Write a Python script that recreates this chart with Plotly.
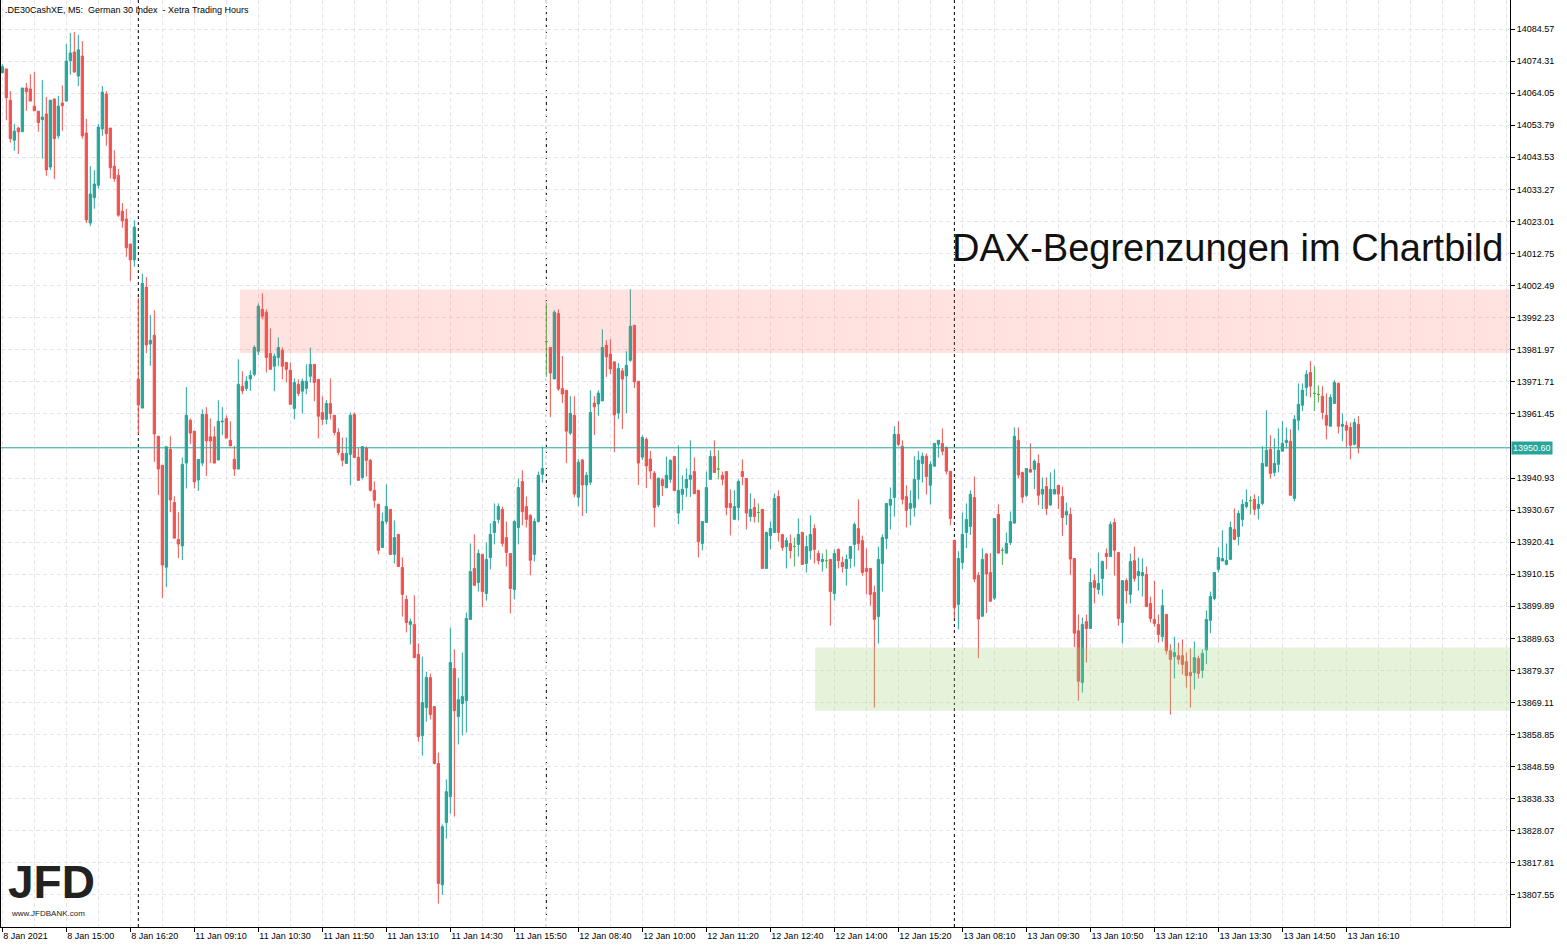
import plotly.graph_objects as go

UP_COLOR = "#26A69A"
DOWN_COLOR = "#EF5350"
DOJI_COLOR = "#4CAF50"
GRID_COLOR = "#E8E5EA"
FONT = "Liberation Sans, Arial, sans-serif"

# M5 candles, 8 Jan 13:40 -> 13 Jan 16:20 (server time, Xetra hours only)
opens = [
    14070.6, 14071.8, 14061.8, 14049.0, 14052.9, 14051.7, 14065.7, 14065.4, 14059.9, 14058.3,
    14055.6, 14057.4, 14040.4, 14062.2, 14050.4, 14060.9, 14061.5, 14074.4, 14077.2, 14069.5,
    14075.9, 14051.3, 14022.5, 14030.6, 14034.6, 14052.6, 14063.8, 14052.9, 14040.7, 14037.8,
    14026.3, 14023.8, 14015.8, 14010.7, 13972.5, 13963.3, 14002.0, 13983.8, 13986.6, 13954.3,
    13945.0, 13912.4, 13950.1, 13933.1, 13921.3, 13919.2, 13945.7, 13959.4, 13955.9, 13940.3,
    13945.7, 13961.3, 13954.1, 13954.1, 13946.7, 13958.9, 13960.0, 13953.0, 13946.9, 13943.8,
    13970.3, 13969.6, 13972.6, 13974.1, 13981.5, 13994.9, 13994.0, 13980.8, 13976.7, 13979.5,
    13981.8, 13977.9, 13975.4, 13963.2, 13970.9, 13968.7, 13969.6, 13973.5, 13977.3, 13972.5,
    13961.9, 13959.7, 13964.8, 13961.0, 13955.5, 13948.8, 13945.6, 13948.5, 13961.3, 13947.6,
    13941.1, 13950.5, 13946.6, 13937.0, 13932.5, 13918.7, 13927.0, 13930.9, 13916.5, 13922.9,
    13912.3, 13902.1, 13894.1, 13894.1, 13884.5, 13858.5, 13867.5, 13877.1, 13867.8, 13849.6,
    13810.8, 13830.7, 13839.0, 13880.0, 13864.6, 13868.8, 13869.7, 13895.7, 13912.0, 13907.5,
    13916.5, 13904.0, 13915.5, 13923.5, 13927.7, 13930.9, 13921.9, 13916.8, 13905.3, 13925.1,
    13939.8, 13931.8, 13929.0, 13916.5, 13927.0, 13942.1, 13984.6, 13982.7, 13972.6, 13993.6,
    13969.6, 13969.0, 13955.3, 13961.0, 13934.8, 13946.7, 13938.7, 13939.6, 13964.9, 13964.6,
    13965.6, 13983.4, 13980.6, 13978.1, 13961.7, 13975.2, 13973.6, 13978.6, 13989.8, 13971.9,
    13947.6, 13953.3, 13947.0, 13942.5, 13932.3, 13940.4, 13937.8, 13940.5, 13947.8, 13929.7,
    13935.7, 13937.8, 13940.5, 13943.0, 13937.0, 13920.0, 13926.7, 13940.5, 13947.8, 13943.8,
    13941.8, 13943.0, 13932.8, 13927.7, 13931.5, 13943.0, 13940.8, 13928.6, 13931.5, 13929.9,
    13930.9, 13912.0, 13922.5, 13923.5, 13935.0, 13922.9, 13919.0, 13920.0, 13919.0, 13919.7,
    13923.5, 13913.6, 13917.7, 13924.8, 13916.8, 13914.2, 13914.5, 13914.9, 13904.0, 13918.1,
    13913.9, 13912.0, 13915.2, 13919.7, 13924.8, 13920.9, 13912.0, 13912.0, 13904.3, 13896.6,
    13913.6, 13921.6, 13932.2, 13934.7, 13954.9, 13951.1, 13935.0, 13931.2, 13931.5, 13940.5,
    13945.6, 13947.9, 13938.6, 13944.7, 13951.7, 13952.0, 13950.7, 13943.1, 13921.0, 13900.5,
    13913.9, 13923.5, 13925.4, 13934.7, 13909.8, 13896.7, 13916.6, 13910.7, 13902.5, 13929.3,
    13917.8, 13916.9, 13920.3, 13926.5, 13953.0, 13942.7, 13935.4, 13943.7, 13943.7, 13945.6,
    13935.8, 13938.2, 13932.3, 13935.8, 13938.6, 13935.0, 13929.1, 13929.3, 13915.2, 13892.1,
    13875.5, 13895.0, 13892.8, 13908.1, 13905.3, 13908.8, 13916.8, 13915.8, 13926.7, 13917.1,
    13894.7, 13908.1, 13903.7, 13914.5, 13909.7, 13909.7, 13910.1, 13900.8, 13895.7, 13894.1,
    13890.2, 13897.3, 13885.7, 13883.8, 13884.1, 13884.1, 13882.2, 13878.7, 13878.7, 13883.2,
    13879.4, 13885.9, 13895.4, 13902.4, 13911.7, 13914.4, 13913.3, 13914.9, 13924.5, 13922.2,
    13927.7, 13931.8, 13933.7, 13934.1, 13931.2, 13932.8, 13944.7, 13950.1, 13942.7, 13945.3,
    13949.5, 13952.3, 13952.7, 13934.4, 13959.4, 13964.2, 13969.9, 13974.7, 13968.0, 13967.7,
    13967.1, 13961.0, 13957.5, 13964.8, 13971.2, 13957.5, 13957.8, 13957.1, 13951.7, 13958.1,
]
highs = [
    14073.3, 14071.8, 14064.7, 14054.2, 14053.3, 14065.7, 14067.3, 14070.1, 14070.8, 14058.3,
    14068.2, 14062.8, 14061.8, 14062.2, 14063.2, 14066.6, 14079.8, 14083.3, 14083.6, 14082.7,
    14080.7, 14055.8, 14040.7, 14039.4, 14054.2, 14066.3, 14064.7, 14052.9, 14045.8, 14039.8,
    14028.9, 14027.0, 14015.8, 14023.4, 13998.6, 14006.3, 14005.2, 13993.0, 13994.6, 13954.3,
    13945.0, 13951.2, 13954.3, 13935.1, 13930.0, 13947.5, 13970.0, 13960.0, 13955.9, 13946.9,
    13962.9, 13963.6, 13960.0, 13957.5, 13965.8, 13963.6, 13961.0, 13959.1, 13951.2, 13978.9,
    13975.1, 13973.5, 13975.4, 13983.4, 13996.8, 14000.0, 13994.9, 13988.8, 13980.8, 13985.9,
    13982.7, 13977.9, 13977.9, 13972.8, 13972.5, 13972.8, 13977.3, 13982.7, 13977.3, 13972.5,
    13967.1, 13965.8, 13972.8, 13961.0, 13956.8, 13953.9, 13953.9, 13961.9, 13961.9, 13950.5,
    13951.0, 13951.0, 13947.0, 13939.8, 13932.8, 13929.9, 13938.9, 13930.9, 13927.4, 13922.9,
    13915.5, 13903.4, 13896.0, 13903.4, 13888.0, 13883.8, 13879.0, 13878.4, 13867.8, 13853.1,
    13830.1, 13844.5, 13893.1, 13886.1, 13877.0, 13885.1, 13897.9, 13920.0, 13922.9, 13918.1,
    13916.5, 13920.3, 13926.4, 13932.8, 13932.8, 13931.8, 13927.0, 13916.8, 13927.4, 13940.8,
    13943.4, 13935.0, 13929.3, 13928.0, 13943.0, 13951.0, 13996.9, 13982.7, 13994.6, 13994.9,
    13980.0, 13969.0, 13967.1, 13967.1, 13947.0, 13947.0, 13942.8, 13969.0, 13967.1, 13969.0,
    13988.5, 13985.0, 13985.3, 13978.1, 13977.7, 13976.1, 13981.5, 14001.3, 13989.8, 13971.9,
    13954.6, 13953.9, 13949.6, 13943.2, 13940.9, 13941.0, 13947.8, 13946.9, 13947.8, 13951.4,
    13941.8, 13944.0, 13953.0, 13947.5, 13937.0, 13927.0, 13943.0, 13949.8, 13953.0, 13949.8,
    13943.0, 13943.0, 13937.3, 13937.0, 13940.5, 13946.9, 13940.8, 13936.0, 13934.4, 13932.8,
    13930.9, 13923.8, 13927.0, 13936.0, 13937.0, 13922.9, 13921.9, 13922.9, 13921.9, 13928.0,
    13923.8, 13922.5, 13929.0, 13926.1, 13917.7, 13916.8, 13918.1, 13914.9, 13918.1, 13918.4,
    13915.8, 13916.5, 13919.0, 13926.7, 13934.1, 13922.5, 13918.4, 13912.0, 13906.5, 13919.0,
    13922.9, 13932.8, 13937.9, 13957.5, 13959.1, 13953.0, 13938.6, 13937.0, 13947.9, 13949.5,
    13949.1, 13948.8, 13946.3, 13952.0, 13953.0, 13956.8, 13951.1, 13943.1, 13921.0, 13917.5,
    13929.9, 13932.8, 13937.0, 13941.4, 13910.8, 13918.4, 13916.9, 13916.9, 13928.0, 13932.5,
    13918.7, 13923.5, 13930.2, 13957.1, 13957.1, 13943.0, 13944.0, 13952.0, 13946.9, 13948.5,
    13941.1, 13941.1, 13942.7, 13943.7, 13938.6, 13938.2, 13933.1, 13931.5, 13915.2, 13897.3,
    13896.3, 13897.3, 13912.0, 13910.1, 13917.1, 13914.5, 13918.4, 13927.0, 13928.0, 13917.1,
    13908.1, 13908.8, 13916.8, 13919.0, 13915.5, 13915.2, 13912.6, 13903.0, 13908.1, 13897.3,
    13905.3, 13897.3, 13887.7, 13890.2, 13888.3, 13889.3, 13885.1, 13886.4, 13888.6, 13884.1,
    13886.1, 13898.6, 13904.6, 13910.7, 13918.7, 13924.2, 13920.0, 13927.0, 13931.2, 13930.6,
    13934.1, 13937.3, 13935.1, 13935.7, 13935.1, 13951.1, 13962.6, 13954.6, 13953.6, 13956.8,
    13959.1, 13957.1, 13956.5, 13961.0, 13971.2, 13971.2, 13975.4, 13978.3, 13976.7, 13970.6,
    13970.3, 13968.0, 13967.7, 13972.2, 13971.5, 13961.6, 13959.1, 13958.7, 13960.0, 13960.7,
]
lows = [
    14070.4, 14055.4, 14048.2, 14045.6, 14044.6, 14051.7, 14058.4, 14061.5, 14058.4, 14051.7,
    14043.1, 14037.6, 14039.5, 14036.6, 14049.5, 14052.0, 14061.5, 14070.0, 14070.6, 14066.3,
    14049.5, 14022.5, 14021.5, 14027.1, 14033.5, 14050.4, 14047.2, 14036.7, 14035.7, 14024.5,
    14021.0, 14011.7, 14004.0, 14008.5, 13955.0, 13963.3, 13980.9, 13976.8, 13946.1, 13935.5,
    13902.5, 13906.0, 13930.0, 13921.7, 13915.3, 13914.7, 13937.6, 13951.8, 13937.6, 13936.8,
    13944.8, 13941.6, 13945.7, 13945.7, 13946.7, 13954.6, 13953.7, 13951.2, 13941.6, 13943.8,
    13967.7, 13968.8, 13968.8, 13973.5, 13980.2, 13991.7, 13974.7, 13975.7, 13968.7, 13976.7,
    13972.5, 13971.5, 13964.5, 13959.7, 13967.1, 13961.6, 13967.7, 13971.5, 13965.5, 13953.6,
    13957.8, 13958.1, 13959.7, 13954.6, 13948.2, 13944.7, 13945.6, 13938.6, 13947.5, 13940.2,
    13940.5, 13941.4, 13936.6, 13931.5, 13916.5, 13918.7, 13926.1, 13916.5, 13913.6, 13912.6,
    13896.6, 13891.5, 13887.7, 13883.2, 13856.6, 13852.1, 13863.0, 13863.7, 13849.3, 13804.8,
    13807.6, 13825.6, 13833.6, 13832.6, 13855.7, 13858.6, 13859.5, 13895.7, 13906.6, 13904.6,
    13899.6, 13901.7, 13911.7, 13919.7, 13926.4, 13919.0, 13912.6, 13897.6, 13902.1, 13919.7,
    13925.8, 13925.1, 13909.8, 13914.2, 13926.7, 13939.5, 13973.3, 13960.4, 13972.6, 13968.8,
    13964.9, 13945.7, 13954.7, 13934.8, 13931.9, 13928.8, 13929.7, 13938.7, 13954.7, 13960.8,
    13965.6, 13973.3, 13974.2, 13949.2, 13959.8, 13956.6, 13961.7, 13978.1, 13969.7, 13938.7,
    13946.7, 13937.7, 13940.6, 13925.2, 13931.6, 13935.2, 13937.8, 13939.4, 13936.9, 13926.2,
    13930.6, 13934.9, 13934.9, 13935.9, 13915.5, 13917.8, 13926.7, 13940.5, 13942.7, 13940.5,
    13938.6, 13929.0, 13922.6, 13927.7, 13927.4, 13938.6, 13924.5, 13927.0, 13926.7, 13926.7,
    13912.0, 13912.0, 13918.1, 13923.5, 13920.6, 13917.7, 13912.0, 13915.2, 13912.6, 13915.8,
    13913.3, 13910.7, 13914.9, 13913.6, 13913.3, 13911.0, 13912.0, 13893.7, 13901.7, 13912.0,
    13910.7, 13906.5, 13912.0, 13912.6, 13917.7, 13909.7, 13903.7, 13900.1, 13867.5, 13888.0,
    13904.6, 13918.2, 13924.5, 13928.6, 13951.1, 13932.5, 13925.1, 13925.8, 13928.6, 13934.1,
    13939.5, 13935.7, 13932.5, 13944.7, 13947.5, 13948.2, 13942.1, 13925.8, 13896.0, 13892.5,
    13911.8, 13918.5, 13922.7, 13907.6, 13883.3, 13896.7, 13897.7, 13901.5, 13901.9, 13916.9,
    13913.1, 13916.9, 13919.5, 13926.5, 13940.9, 13932.9, 13934.8, 13942.8, 13937.4, 13932.3,
    13931.0, 13929.1, 13932.0, 13935.8, 13931.0, 13922.4, 13925.9, 13909.9, 13886.8, 13869.7,
    13872.3, 13881.9, 13892.8, 13900.8, 13903.7, 13903.3, 13911.7, 13915.8, 13909.7, 13893.7,
    13888.0, 13900.8, 13900.8, 13907.8, 13904.9, 13903.0, 13899.8, 13894.7, 13893.4, 13888.3,
    13888.6, 13884.5, 13865.3, 13876.8, 13881.3, 13878.1, 13873.9, 13867.5, 13873.3, 13876.8,
    13876.9, 13881.4, 13891.3, 13901.8, 13910.7, 13914.4, 13913.0, 13914.9, 13921.0, 13919.4,
    13925.4, 13931.2, 13929.3, 13929.0, 13927.7, 13932.2, 13944.7, 13940.8, 13941.5, 13942.7,
    13949.5, 13950.4, 13935.4, 13933.5, 13956.2, 13962.3, 13967.1, 13966.7, 13962.3, 13965.1,
    13959.7, 13953.3, 13957.5, 13964.8, 13955.2, 13952.7, 13950.7, 13946.9, 13951.4, 13948.8,
]
closes = [
    14072.5, 14062.6, 14049.5, 14051.9, 14051.7, 14065.7, 14064.5, 14061.5, 14058.4, 14054.6,
    14056.4, 14039.5, 14061.8, 14049.5, 14059.9, 14060.0, 14074.3, 14076.9, 14070.8, 14077.9,
    14050.4, 14023.5, 14031.8, 14035.0, 14053.2, 14064.4, 14051.1, 14040.2, 14036.7, 14025.0,
    14023.2, 14014.6, 14010.7, 14021.2, 13964.3, 14003.2, 13983.5, 13985.0, 13955.0, 13943.8,
    13913.1, 13950.9, 13933.9, 13921.7, 13919.8, 13945.3, 13961.0, 13955.3, 13939.7, 13946.9,
    13961.3, 13952.8, 13952.8, 13945.7, 13959.1, 13959.1, 13953.7, 13951.2, 13943.8, 13970.9,
    13968.8, 13971.9, 13973.8, 13982.7, 13995.9, 13992.7, 13979.5, 13975.7, 13979.9, 13982.7,
    13976.7, 13975.7, 13964.5, 13971.5, 13968.0, 13971.9, 13971.9, 13977.3, 13971.5, 13960.7,
    13959.7, 13964.8, 13961.6, 13955.5, 13949.1, 13946.6, 13948.8, 13961.0, 13947.5, 13940.2,
    13951.0, 13946.6, 13937.0, 13933.8, 13917.8, 13927.0, 13931.8, 13916.5, 13921.9, 13912.6,
    13903.7, 13894.7, 13895.0, 13883.5, 13858.2, 13869.1, 13877.1, 13865.3, 13849.6, 13811.2,
    13829.4, 13840.6, 13881.9, 13866.5, 13870.0, 13871.0, 13896.0, 13911.0, 13906.6, 13916.8,
    13904.6, 13914.9, 13922.9, 13927.0, 13931.8, 13920.0, 13917.1, 13905.6, 13927.0, 13937.9,
    13930.2, 13927.7, 13914.6, 13927.0, 13941.8, 13944.0, 13984.6, 13974.5, 13994.0, 13969.4,
    13967.8, 13955.9, 13961.6, 13935.8, 13946.0, 13938.7, 13941.8, 13961.9, 13963.7, 13968.1,
    13982.7, 13979.7, 13975.8, 13961.1, 13976.0, 13972.6, 13977.0, 13989.5, 13971.7, 13945.7,
    13953.9, 13944.8, 13943.2, 13931.5, 13940.9, 13938.5, 13941.8, 13946.6, 13936.9, 13937.0,
    13937.3, 13940.5, 13941.8, 13935.9, 13920.6, 13927.0, 13937.9, 13947.8, 13942.7, 13943.8,
    13940.5, 13931.5, 13931.5, 13931.8, 13939.8, 13941.4, 13929.7, 13930.9, 13928.6, 13929.9,
    13912.0, 13923.5, 13924.8, 13934.4, 13923.5, 13918.7, 13920.9, 13917.7, 13919.0, 13922.9,
    13913.3, 13919.0, 13922.9, 13918.1, 13914.5, 13914.9, 13914.5, 13904.6, 13916.8, 13914.5,
    13912.6, 13914.9, 13919.0, 13926.1, 13920.0, 13910.7, 13911.0, 13903.7, 13895.7, 13914.9,
    13921.9, 13932.8, 13934.1, 13954.9, 13951.7, 13934.1, 13930.6, 13932.8, 13940.5, 13946.6,
    13947.9, 13941.4, 13945.3, 13952.0, 13953.0, 13949.5, 13943.1, 13928.0, 13899.5, 13915.2,
    13922.9, 13927.7, 13935.7, 13908.6, 13895.8, 13914.9, 13910.2, 13901.5, 13928.0, 13916.9,
    13917.8, 13920.0, 13927.0, 13954.3, 13941.9, 13934.8, 13944.0, 13942.8, 13946.3, 13935.4,
    13937.3, 13931.2, 13937.3, 13937.3, 13935.8, 13928.3, 13930.2, 13915.0, 13891.3, 13875.9,
    13894.1, 13892.8, 13907.5, 13905.9, 13907.2, 13914.2, 13915.8, 13926.1, 13917.8, 13896.0,
    13908.1, 13904.9, 13914.2, 13908.8, 13911.0, 13910.7, 13899.8, 13896.0, 13894.4, 13890.9,
    13900.1, 13885.7, 13882.9, 13885.1, 13882.9, 13881.3, 13877.7, 13877.7, 13883.5, 13878.4,
    13884.8, 13895.7, 13903.0, 13910.7, 13915.5, 13915.2, 13914.6, 13925.1, 13921.3, 13929.6,
    13932.5, 13933.1, 13933.7, 13930.9, 13932.5, 13945.6, 13949.8, 13942.4, 13945.6, 13949.8,
    13952.0, 13953.0, 13935.4, 13959.7, 13964.5, 13969.0, 13974.1, 13970.3, 13968.0, 13967.7,
    13961.9, 13957.8, 13966.7, 13971.5, 13957.5, 13958.1, 13956.2, 13951.4, 13958.7, 13950.6,
]

# first bar of each trading day (dashed period separators)
day_starts = [34, 136, 238]

# time labels: one every 16 bars
time_tick_bars = list(range(0, 336 + 1, 16))
time_tick_labels = [
    "8 Jan 2021", "8 Jan 15:00", "8 Jan 16:20", "11 Jan 09:10", "11 Jan 10:30",
    "11 Jan 11:50", "11 Jan 13:10", "11 Jan 14:30", "11 Jan 15:50", "12 Jan 08:40",
    "12 Jan 10:00", "12 Jan 11:20", "12 Jan 12:40", "12 Jan 14:00", "12 Jan 15:20",
    "13 Jan 08:10", "13 Jan 09:30", "13 Jan 10:50", "13 Jan 12:10", "13 Jan 13:30",
    "13 Jan 14:50", "13 Jan 16:10",
]

price_ticks = [
    14084.57, 14074.31, 14064.05, 14053.79, 14043.53, 14033.27, 14023.01, 14012.75,
    14002.49, 13992.23, 13981.97, 13971.71, 13961.45, 13940.93, 13930.67, 13920.41,
    13910.15, 13899.89, 13889.63, 13879.37, 13869.11, 13858.85, 13848.59, 13838.33,
    13828.07, 13817.81, 13807.55,
]

last_price = 13950.60
resistance_zone = (13980.9, 14001.2)
resistance_from_bar = 59.4
support_zone = (13866.5, 13886.7)
support_from_bar = 203.2

X_RANGE = [-0.33, 376.9]
Y_RANGE = [13797.3, 14093.85]

idx = list(range(len(opens)))
doji = [o == c for o, c in zip(opens, closes)]


def subset(values, keep_doji):
    return [v for v, d in zip(values, doji) if d == keep_doji]


fig = go.Figure()
fig.add_trace(go.Candlestick(
    x=subset(idx, False), open=subset(opens, False), high=subset(highs, False),
    low=subset(lows, False), close=subset(closes, False),
    increasing=dict(line=dict(color=UP_COLOR, width=1), fillcolor=UP_COLOR),
    decreasing=dict(line=dict(color=DOWN_COLOR, width=1), fillcolor=DOWN_COLOR),
    whiskerwidth=0, showlegend=False, hoverinfo="skip",
))
fig.add_trace(go.Candlestick(
    x=subset(idx, True), open=subset(opens, True), high=subset(highs, True),
    low=subset(lows, True), close=subset(closes, True),
    increasing=dict(line=dict(color=DOJI_COLOR, width=1), fillcolor=DOJI_COLOR),
    decreasing=dict(line=dict(color=DOJI_COLOR, width=1), fillcolor=DOJI_COLOR),
    whiskerwidth=0, showlegend=False, hoverinfo="skip",
))

# day separators
for d in day_starts:
    fig.add_shape(type="line", xref="x", yref="paper", x0=d, x1=d, y0=0, y1=1,
                  line=dict(color="black", width=1, dash="3px,3px"), layer="between")

# zones drawn semi-transparent over the candles like in MT5
fig.add_shape(type="rect", xref="x", yref="y",
              x0=resistance_from_bar, x1=X_RANGE[1],
              y0=resistance_zone[0], y1=resistance_zone[1],
              fillcolor="rgba(255,90,80,0.17)", line=dict(width=0), layer="above")
fig.add_shape(type="rect", xref="x", yref="y",
              x0=support_from_bar, x1=X_RANGE[1],
              y0=support_zone[0], y1=support_zone[1],
              fillcolor="rgba(160,211,119,0.27)", line=dict(width=0), layer="above")

# bid line + price tag
fig.add_shape(type="line", xref="paper", yref="y", x0=0, x1=1, y0=last_price, y1=last_price,
              line=dict(color=UP_COLOR, width=1), layer="above")
fig.add_annotation(xref="paper", yref="y", x=1, y=last_price, xanchor="left", yanchor="middle",
                   text=f"{last_price:.2f}", showarrow=False, bgcolor=UP_COLOR,
                   font=dict(family=FONT, size=9, color="white"), borderpad=1, xshift=1)

fig.add_annotation(xref="paper", yref="paper", x=0, y=1, xanchor="left", yanchor="top",
                   xshift=2, yshift=-3, showarrow=False,
                   text=".DE30CashXE, M5:  German 30 Index  - Xetra Trading Hours",
                   font=dict(family=FONT, size=9, color="black"))

fig.add_annotation(xref="paper", yref="paper", x=0.9967, y=0.7325, xanchor="right",
                   yanchor="middle", showarrow=False, text="DAX-Begrenzungen im Chartbild",
                   font=dict(family=FONT, size=38, color="#111111"))

# JFD logo
fig.add_annotation(xref="paper", yref="paper", x=0.003, y=0.03, xanchor="left",
                   yanchor="bottom", yshift=-11, showarrow=False, text="<b>JFD</b>",
                   font=dict(family=FONT, size=46, color="#222222"))
fig.add_annotation(xref="paper", yref="paper", x=0.005, y=0.004, xanchor="left",
                   yanchor="bottom", yshift=3, showarrow=False, text="www.JFDBANK.com",
                   font=dict(family=FONT, size=8, color="#222222"))

fig.update_layout(
    width=1567, height=947,
    margin=dict(l=1, r=57, t=0, b=20, autoexpand=False),
    paper_bgcolor="white", plot_bgcolor="white",
    boxgap=0.2, boxgroupgap=0.3,
    hovermode=False,
    font=dict(family=FONT, size=9, color="black"),
    xaxis=dict(
        range=X_RANGE, rangeslider=dict(visible=False),
        tickmode="array", tickvals=time_tick_bars, ticktext=time_tick_labels,
        ticklabelposition="outside right", ticks="outside", ticklen=4, tickcolor="black",
        showgrid=True, gridcolor=GRID_COLOR, griddash="4px,3px", gridwidth=1,
        minor=dict(tickmode="linear", tick0=0, dtick=8, showgrid=True,
                   gridcolor=GRID_COLOR, griddash="4px,3px", ticklen=0),
        showline=True, linecolor="black", linewidth=1, zeroline=False,
        tickfont=dict(family=FONT, size=9, color="black"),
    ),
    yaxis=dict(
        range=Y_RANGE, side="right",
        tickmode="array", tickvals=price_ticks, ticktext=[f"{v:.2f}" for v in price_ticks],
        ticks="outside", ticklen=4, tickcolor="black",
        showgrid=True, gridcolor=GRID_COLOR, griddash="4px,3px", gridwidth=1,
        showline=True, mirror=True, linecolor="black", linewidth=1, zeroline=False,
        tickfont=dict(family=FONT, size=9, color="black"),
    ),
)

fig.write_html("out.html", config={"displayModeBar": False},
               post_script="document.body.style.margin='0';")
